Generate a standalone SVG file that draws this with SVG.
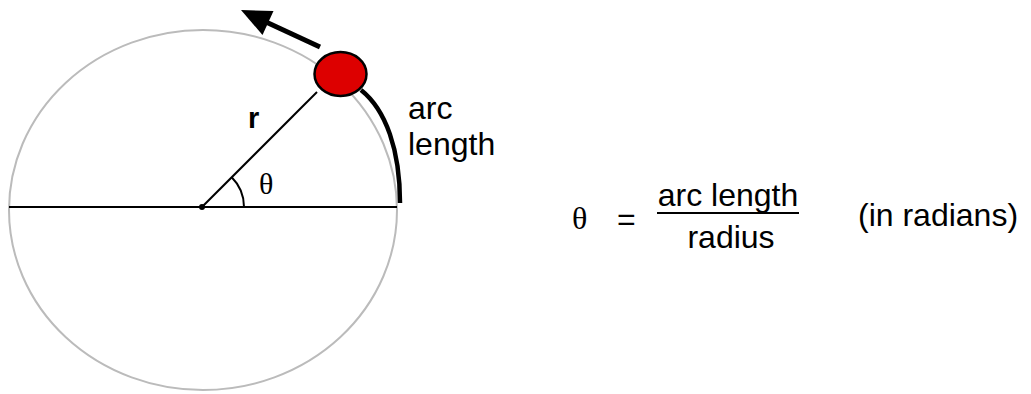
<svg xmlns="http://www.w3.org/2000/svg" width="1031" height="394" viewBox="0 0 1031 394">
  <style>
    .sans { font-family: "Liberation Sans", Arial, sans-serif; font-size: 32px; fill: #000; }
    .serif { font-family: "Liberation Serif", "Times New Roman", serif; fill: #000; }
    .ln { stroke: #000; stroke-width: 2; fill: none; }
  </style>
  <rect width="1031" height="394" fill="#fff"/>
  <g id="circle">
    <ellipse cx="203" cy="210" rx="194" ry="180" fill="none" stroke="#bbbbbb" stroke-width="2"/>
  </g>
  <g id="connectors">
    <line class="ln" x1="9" y1="207" x2="397" y2="207"/>
    <line class="ln" x1="202" y1="207" x2="317" y2="92"/>
    <path class="ln" d="M 244 207 A 42 42 0 0 0 231.7 177.3"/>
    <path d="M 361 90 C 386 110, 400 150, 400 203" fill="none" stroke="#000" stroke-width="4.5"/>
    <line x1="320" y1="47" x2="266" y2="22" stroke="#000" stroke-width="5"/>
    <polygon points="241,10 273.5,11 262.5,35" fill="#000"/>
  </g>
  <g id="center">
    <circle cx="202" cy="207" r="3" fill="#000"/>
  </g>
  <g id="ball">
    <ellipse cx="340.5" cy="74" rx="26" ry="22" fill="#dd0000" stroke="#000" stroke-width="2.5"/>
  </g>
  <g id="labels">
    <text class="sans" x="248" y="128" font-size="29" font-weight="bold" style="font-size:29px">r</text>
    <text class="serif" x="259" y="194" font-size="30">θ</text>
    <text class="sans" x="408" y="119">arc</text>
    <text class="sans" x="408" y="155">length</text>
  </g>
  <g id="formula">
    <text class="serif" x="572" y="229" font-size="32">θ</text>
    <text class="sans" x="617" y="230">=</text>
    <text class="sans" x="728" y="206" text-anchor="middle">arc length</text>
    <line x1="657" y1="213" x2="799" y2="213" stroke="#000" stroke-width="2"/>
    <text class="sans" x="731" y="248" text-anchor="middle">radius</text>
    <text class="sans" x="858" y="226">(in radians)</text>
  </g>
</svg>
